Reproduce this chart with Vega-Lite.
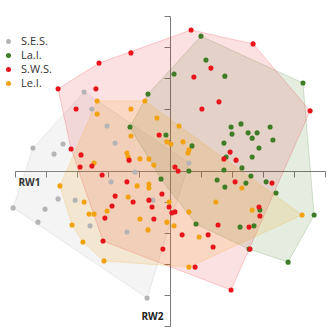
{
  "$schema": "https://vega.github.io/schema/vega-lite/v6.json",
  "width": 310,
  "height": 310,
  "autosize": "none",
  "padding": {"left": 15, "top": 16, "right": 3, "bottom": 3},
  "background": "white",
  "config": {
    "view": {"stroke": null},
    "font": "Open Sans"
  },
  "datasets": {
    "pts": [
      {"g": "S.E.S.", "x": -2.77, "y": 2.55, "h": 1},
      {"g": "S.E.S.", "x": -2.52, "y": 2.0},
      {"g": "S.E.S.", "x": -2.03, "y": 1.45},
      {"g": "S.E.S.", "x": -1.77, "y": 0.9},
      {"g": "S.E.S.", "x": -4.42, "y": 0.74, "h": 5},
      {"g": "S.E.S.", "x": -3.74, "y": 0.55},
      {"g": "S.E.S.", "x": -3.45, "y": 0.87},
      {"g": "S.E.S.", "x": 0.61, "y": 0.26, "h": 2},
      {"g": "S.E.S.", "x": -1.13, "y": -0.03},
      {"g": "S.E.S.", "x": -1.9, "y": -0.35},
      {"g": "S.E.S.", "x": -3.61, "y": -0.9},
      {"g": "S.E.S.", "x": -3.06, "y": -0.94},
      {"g": "S.E.S.", "x": -5.06, "y": -1.19, "h": 4},
      {"g": "S.E.S.", "x": -4.26, "y": -1.65},
      {"g": "S.E.S.", "x": -4.03, "y": -1.23},
      {"g": "S.E.S.", "x": -2.58, "y": -1.77},
      {"g": "S.E.S.", "x": -1.39, "y": -1.97},
      {"g": "S.E.S.", "x": -0.55, "y": -0.94},
      {"g": "S.E.S.", "x": -0.74, "y": -4.1, "h": 3},

      {"g": "Le.I.", "x": -2.35, "y": 2.26, "h": 1},
      {"g": "Le.I.", "x": -2.35, "y": 1.84},
      {"g": "Le.I.", "x": -1.26, "y": 2.0},
      {"g": "Le.I.", "x": -0.81, "y": 2.26, "h": 2},
      {"g": "Le.I.", "x": -0.42, "y": 1.71},
      {"g": "Le.I.", "x": -1.26, "y": 1.13},
      {"g": "Le.I.", "x": -1.39, "y": 0.58},
      {"g": "Le.I.", "x": -1.35, "y": 0.45},
      {"g": "Le.I.", "x": -0.97, "y": 0.39},
      {"g": "Le.I.", "x": -0.68, "y": 0.39},
      {"g": "Le.I.", "x": -2.45, "y": 0.26},
      {"g": "Le.I.", "x": 0.29, "y": 1.45},
      {"g": "Le.I.", "x": -0.1, "y": 0.94},
      {"g": "Le.I.", "x": 0.03, "y": 0.87},
      {"g": "Le.I.", "x": 0.42, "y": 0.94},
      {"g": "Le.I.", "x": 0.61, "y": 0.68},
      {"g": "Le.I.", "x": 0.58, "y": 0.58},
      {"g": "Le.I.", "x": -0.52, "y": 0.19},
      {"g": "Le.I.", "x": -3.55, "y": -0.48, "h": 8},
      {"g": "Le.I.", "x": -2.77, "y": -1.0},
      {"g": "Le.I.", "x": -2.61, "y": -1.39},
      {"g": "Le.I.", "x": -2.45, "y": -1.39},
      {"g": "Le.I.", "x": -3.16, "y": -1.74, "h": 7},
      {"g": "Le.I.", "x": -2.81, "y": -2.29, "h": 6},
      {"g": "Le.I.", "x": -2.13, "y": -2.9, "h": 5},
      {"g": "Le.I.", "x": -1.06, "y": -0.48},
      {"g": "Le.I.", "x": -0.68, "y": -0.42},
      {"g": "Le.I.", "x": -0.68, "y": -0.55},
      {"g": "Le.I.", "x": -1.35, "y": -0.84},
      {"g": "Le.I.", "x": -2.03, "y": -1.29},
      {"g": "Le.I.", "x": -0.97, "y": -1.55},
      {"g": "Le.I.", "x": -0.71, "y": -1.9},
      {"g": "Le.I.", "x": -0.03, "y": -1.0},
      {"g": "Le.I.", "x": 0.61, "y": -1.32},
      {"g": "Le.I.", "x": 1.48, "y": -1.0},
      {"g": "Le.I.", "x": 2.32, "y": -0.55},
      {"g": "Le.I.", "x": 2.65, "y": -1.26},
      {"g": "Le.I.", "x": 4.26, "y": -1.42, "h": 3},
      {"g": "Le.I.", "x": -0.1, "y": -1.65},
      {"g": "Le.I.", "x": 0.13, "y": -1.77},
      {"g": "Le.I.", "x": 0.94, "y": -2.13},
      {"g": "Le.I.", "x": 0.61, "y": -3.1, "h": 4},

      {"g": "La.I.", "x": -0.71, "y": 2.48, "h": 9},
      {"g": "La.I.", "x": -1.29, "y": 1.42, "h": 8},
      {"g": "La.I.", "x": 1.0, "y": 4.35, "h": 1},
      {"g": "La.I.", "x": 1.16, "y": 3.58},
      {"g": "La.I.", "x": 0.13, "y": 3.13},
      {"g": "La.I.", "x": 1.77, "y": 3.06},
      {"g": "La.I.", "x": 4.29, "y": 2.84, "h": 2},
      {"g": "La.I.", "x": 1.97, "y": 1.42},
      {"g": "La.I.", "x": 2.29, "y": 1.52},
      {"g": "La.I.", "x": 2.0, "y": 1.19},
      {"g": "La.I.", "x": 2.52, "y": 1.23},
      {"g": "La.I.", "x": 2.81, "y": 1.23},
      {"g": "La.I.", "x": 3.23, "y": 1.42},
      {"g": "La.I.", "x": 2.65, "y": 1.06},
      {"g": "La.I.", "x": 3.32, "y": 1.0},
      {"g": "La.I.", "x": 1.74, "y": 0.9},
      {"g": "La.I.", "x": 2.87, "y": 0.74},
      {"g": "La.I.", "x": 2.65, "y": 0.45},
      {"g": "La.I.", "x": 1.81, "y": 0.45},
      {"g": "La.I.", "x": -0.13, "y": 1.16},
      {"g": "La.I.", "x": 0.71, "y": 0.81},
      {"g": "La.I.", "x": 0.61, "y": 0.0},
      {"g": "La.I.", "x": -0.29, "y": -0.26, "h": 7},
      {"g": "La.I.", "x": 1.52, "y": -0.29},
      {"g": "La.I.", "x": 1.74, "y": 0.03},
      {"g": "La.I.", "x": 2.32, "y": 0.1},
      {"g": "La.I.", "x": 2.61, "y": -0.16},
      {"g": "La.I.", "x": 1.77, "y": -0.52},
      {"g": "La.I.", "x": 2.45, "y": -0.39},
      {"g": "La.I.", "x": 3.1, "y": -0.35},
      {"g": "La.I.", "x": 3.42, "y": -0.71},
      {"g": "La.I.", "x": 4.65, "y": -1.42, "h": 3},
      {"g": "La.I.", "x": 2.9, "y": -1.26},
      {"g": "La.I.", "x": 0.84, "y": -1.71, "h": 6},
      {"g": "La.I.", "x": 2.26, "y": -1.81},
      {"g": "La.I.", "x": 2.71, "y": -1.77},
      {"g": "La.I.", "x": 2.55, "y": -2.52, "h": 5},
      {"g": "La.I.", "x": 3.81, "y": -2.94, "h": 4},

      {"g": "S.W.S.", "x": -1.26, "y": 3.81},
      {"g": "S.W.S.", "x": -2.29, "y": 3.48, "h": 2},
      {"g": "S.W.S.", "x": -3.61, "y": 2.65, "h": 1},
      {"g": "S.W.S.", "x": -2.39, "y": 2.65},
      {"g": "S.W.S.", "x": -3.03, "y": 2.0},
      {"g": "S.W.S.", "x": -3.19, "y": 0.71, "h": 8},
      {"g": "S.W.S.", "x": -2.87, "y": 0.52},
      {"g": "S.W.S.", "x": -0.35, "y": 1.16},
      {"g": "S.W.S.", "x": -1.32, "y": 0.35},
      {"g": "S.W.S.", "x": 0.68, "y": 4.55, "h": 3},
      {"g": "S.W.S.", "x": 1.32, "y": 3.32},
      {"g": "S.W.S.", "x": 0.77, "y": 3.03},
      {"g": "S.W.S.", "x": 1.03, "y": 2.0},
      {"g": "S.W.S.", "x": 1.58, "y": 2.23},
      {"g": "S.W.S.", "x": 2.68, "y": 4.1, "h": 4},
      {"g": "S.W.S.", "x": 4.52, "y": 1.94, "h": 5},
      {"g": "S.W.S.", "x": 1.94, "y": 0.61},
      {"g": "S.W.S.", "x": 2.13, "y": 0.35},
      {"g": "S.W.S.", "x": 1.74, "y": 0.39},
      {"g": "S.W.S.", "x": 0.16, "y": 0.13},
      {"g": "S.W.S.", "x": 0.26, "y": 0.0},
      {"g": "S.W.S.", "x": -2.9, "y": 0.13},
      {"g": "S.W.S.", "x": -2.52, "y": 0.16},
      {"g": "S.W.S.", "x": -2.19, "y": -0.13},
      {"g": "S.W.S.", "x": -1.39, "y": -0.35},
      {"g": "S.W.S.", "x": -1.77, "y": -0.81},
      {"g": "S.W.S.", "x": -1.19, "y": -1.0},
      {"g": "S.W.S.", "x": -0.68, "y": -0.94},
      {"g": "S.W.S.", "x": -0.58, "y": -1.16},
      {"g": "S.W.S.", "x": -1.87, "y": -1.13},
      {"g": "S.W.S.", "x": -2.1, "y": -1.52},
      {"g": "S.W.S.", "x": -0.52, "y": -1.55},
      {"g": "S.W.S.", "x": -2.16, "y": -2.26, "h": 7},
      {"g": "S.W.S.", "x": -0.23, "y": -2.52},
      {"g": "S.W.S.", "x": -0.26, "y": -0.74},
      {"g": "S.W.S.", "x": -0.03, "y": -1.16},
      {"g": "S.W.S.", "x": 0.06, "y": -1.35},
      {"g": "S.W.S.", "x": 0.16, "y": -1.32},
      {"g": "S.W.S.", "x": 2.1, "y": -0.35},
      {"g": "S.W.S.", "x": 3.29, "y": -0.39},
      {"g": "S.W.S.", "x": 2.87, "y": -1.16},
      {"g": "S.W.S.", "x": 2.9, "y": -1.45},
      {"g": "S.W.S.", "x": 1.55, "y": -1.74},
      {"g": "S.W.S.", "x": 2.55, "y": -1.81},
      {"g": "S.W.S.", "x": 0.39, "y": -2.06},
      {"g": "S.W.S.", "x": 1.23, "y": -2.06},
      {"g": "S.W.S.", "x": 1.39, "y": -2.45},
      {"g": "S.W.S.", "x": 2.58, "y": -2.52},
      {"g": "S.W.S.", "x": 0.81, "y": -3.1},
      {"g": "S.W.S.", "x": 1.97, "y": -3.84, "h": 6}
    ]
  },
  "data": {"name": "pts"},
  "encoding": {
    "x": {
      "field": "x",
      "type": "quantitative",
      "scale": {"domain": [-5, 5], "nice": false, "zero": false},
      "axis": {
        "orient": "bottom",
        "offset": -155,
        "values": [-5, -4, -3, -2, -1, 0, 1, 2, 3, 4, 5],
        "labels": false,
        "grid": false,
        "domainColor": "#7a7a7a",
        "tickColor": "#7a7a7a",
        "tickSize": 6,
        "title": "RW1",
        "titleFont": "Open Sans",
        "titleFontSize": 10,
        "titleFontWeight": "bold",
        "titleColor": "#222222",
        "titleAnchor": "start",
        "titleAlign": "left",
        "titleBaseline": "alphabetic",
        "titleX": 3,
        "titleY": 14
      }
    },
    "y": {
      "field": "y",
      "type": "quantitative",
      "scale": {"domain": [-5, 5], "nice": false, "zero": false},
      "axis": {
        "orient": "left",
        "offset": -155,
        "values": [-5, -4, -3, -2, -1, 0, 1, 2, 3, 4, 5],
        "labels": false,
        "grid": false,
        "domainColor": "#7a7a7a",
        "tickColor": "#7a7a7a",
        "tickSize": 6,
        "title": "RW2",
        "titleFont": "Open Sans",
        "titleFontSize": 10,
        "titleFontWeight": "bold",
        "titleColor": "#222222",
        "titleAngle": 0,
        "titleAlign": "right",
        "titleBaseline": "alphabetic",
        "titleX": -7,
        "titleY": 303
      }
    }
  },
  "layer": [
    {
      "transform": [{"filter": "isValid(datum.h) && datum.g == 'S.E.S.'"}],
      "mark": {"type": "line", "interpolate": "linear-closed", "stroke": "#b4b4b4", "fill": "#b4b4b4", "fillOpacity": 0.15, "strokeOpacity": 0.25, "strokeWidth": 1},
      "encoding": {"order": {"field": "h", "type": "quantitative"}}
    },
    {
      "transform": [{"filter": "isValid(datum.h) && datum.g == 'La.I.'"}],
      "mark": {"type": "line", "interpolate": "linear-closed", "stroke": "#3e7d26", "fill": "#3e7d26", "fillOpacity": 0.14, "strokeOpacity": 0.2, "strokeWidth": 1},
      "encoding": {"order": {"field": "h", "type": "quantitative"}}
    },
    {
      "transform": [{"filter": "isValid(datum.h) && datum.g == 'S.W.S.'"}],
      "mark": {"type": "line", "interpolate": "linear-closed", "stroke": "#e8141c", "fill": "#e8141c", "fillOpacity": 0.13, "strokeOpacity": 0.2, "strokeWidth": 1},
      "encoding": {"order": {"field": "h", "type": "quantitative"}}
    },
    {
      "transform": [{"filter": "isValid(datum.h) && datum.g == 'Le.I.'"}],
      "mark": {"type": "line", "interpolate": "linear-closed", "stroke": "#f2a20e", "fill": "#f2a20e", "fillOpacity": 0.15, "strokeOpacity": 0.2, "strokeWidth": 1},
      "encoding": {"order": {"field": "h", "type": "quantitative"}}
    },
    {
      "mark": {"type": "circle", "size": 26, "opacity": 1},
      "encoding": {
        "color": {
          "field": "g",
          "type": "nominal",
          "sort": ["S.E.S.", "La.I.", "S.W.S.", "Le.I."],
          "scale": {
            "domain": ["S.E.S.", "La.I.", "S.W.S.", "Le.I."],
            "range": ["#b4b4b4", "#3e7d26", "#e8141c", "#f2a20e"]
          },
          "legend": {
            "title": null,
            "orient": "none",
            "legendX": -12,
            "legendY": 20,
            "padding": 0,
            "symbolType": "circle",
            "symbolSize": 25,
            "labelFont": "Open Sans",
            "labelFontSize": 11,
            "labelColor": "#333333",
            "labelOffset": 7,
            "rowPadding": 2
          }
        }
      }
    }
  ]
}
